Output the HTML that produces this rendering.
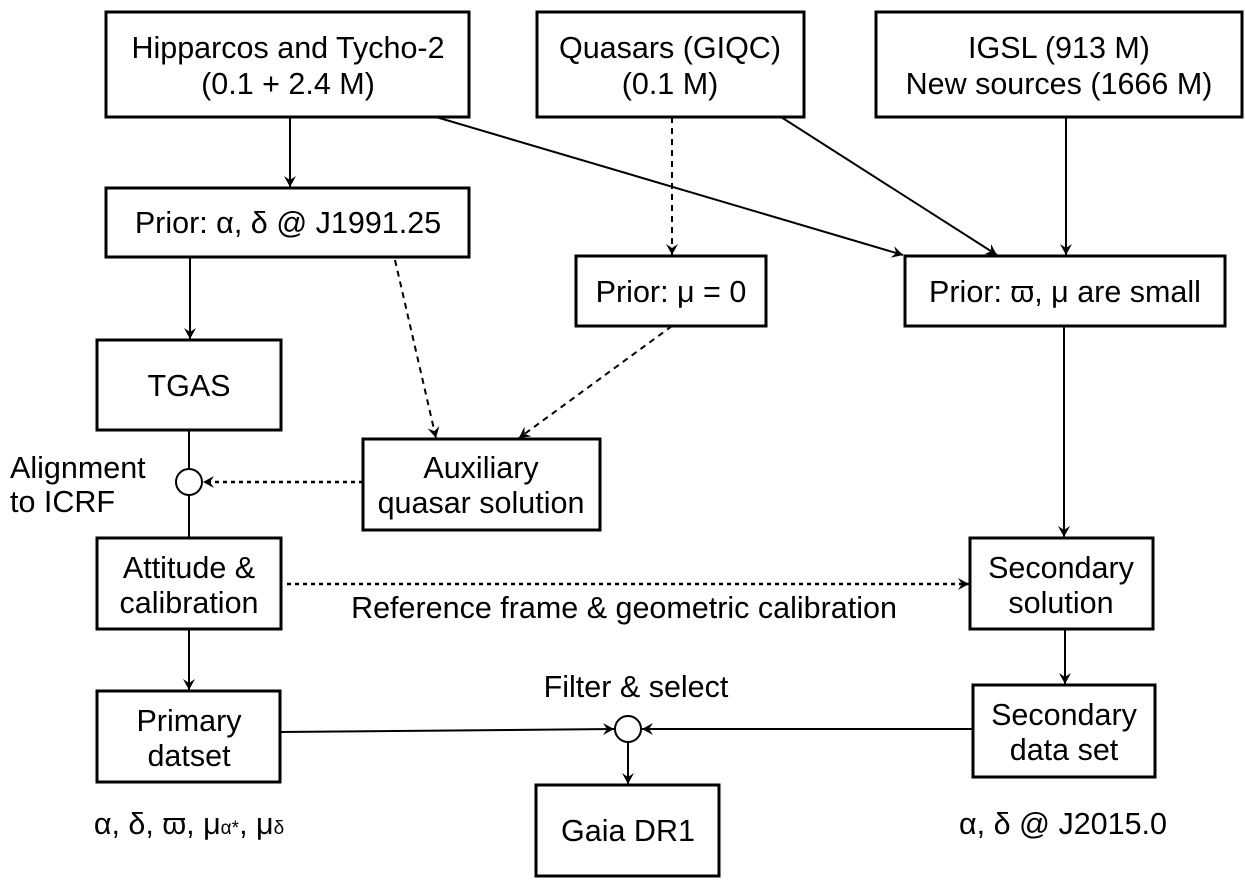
<!DOCTYPE html>
<html><head><meta charset="utf-8"><style>
html,body{margin:0;padding:0;background:#fff;}
svg{display:block;font-family:"Liberation Sans",Arial,sans-serif;}
text{font-size:30.5px;fill:#000;text-anchor:middle;}
</style></head><body>
<svg width="1245" height="887" viewBox="0 0 1245 887" xmlns="http://www.w3.org/2000/svg">
<defs>
<marker id="a" markerWidth="12" markerHeight="12" refX="11" refY="6" orient="auto" markerUnits="userSpaceOnUse">
<path d="M0,0 L11,6 L0,12 L4,6 z" fill="#000"/></marker>
</defs>
<g fill="none" stroke="#000" stroke-width="3">
<rect x="106" y="12" width="363" height="105"/>
<rect x="537" y="12" width="267" height="105"/>
<rect x="876" y="12" width="366" height="105"/>
<rect x="106" y="188" width="363" height="69"/>
<rect x="576" y="256" width="190" height="70"/>
<rect x="905" y="256" width="320" height="70"/>
<rect x="97" y="340" width="184" height="90"/>
<rect x="363" y="439" width="237" height="91"/>
<rect x="97" y="538" width="184" height="91"/>
<rect x="970" y="538" width="183" height="91"/>
<rect x="97" y="691" width="183" height="91"/>
<rect x="973" y="685" width="182" height="92"/>
<rect x="536" y="785" width="183" height="91"/>
</g>
<g fill="none" stroke="#000" stroke-width="2">
<circle cx="189" cy="482" r="13"/>
<circle cx="628" cy="729" r="13"/>
<line x1="290" y1="117" x2="290" y2="187" marker-end="url(#a)"/>
<line x1="190" y1="257" x2="190" y2="339" marker-end="url(#a)"/>
<line x1="436" y1="117" x2="903" y2="255" marker-end="url(#a)"/>
<line x1="781" y1="117" x2="997" y2="255" marker-end="url(#a)"/>
<line x1="1066" y1="117" x2="1066" y2="255" marker-end="url(#a)"/>
<line x1="1064" y1="326" x2="1064" y2="537" marker-end="url(#a)"/>
<line x1="189" y1="430" x2="189" y2="469"/>
<line x1="189" y1="495" x2="189" y2="538"/>
<line x1="189" y1="629" x2="189" y2="690" marker-end="url(#a)"/>
<line x1="1065" y1="629" x2="1065" y2="684" marker-end="url(#a)"/>
<line x1="280" y1="732" x2="614" y2="729" marker-end="url(#a)"/>
<line x1="973" y1="729" x2="642" y2="729" marker-end="url(#a)"/>
<line x1="628" y1="742" x2="628" y2="784" marker-end="url(#a)"/>
</g>
<g fill="none" stroke="#000" stroke-width="2">
<line x1="672" y1="117" x2="672" y2="255" marker-end="url(#a)" stroke-dasharray="6,5"/>
<line x1="672" y1="326" x2="519" y2="438" marker-end="url(#a)" stroke-dasharray="6,5"/>
<line x1="395" y1="260" x2="436" y2="438" marker-end="url(#a)" stroke-dasharray="6,5"/>
</g>
<g fill="none" stroke="#000" stroke-width="2.5" stroke-dasharray="4,4">
<line x1="363" y1="482" x2="203" y2="482" marker-end="url(#a)"/>
<line x1="287" y1="584" x2="969" y2="584" marker-end="url(#a)"/>
</g>
<text x="288" y="58">Hipparcos and Tycho-2</text>
<text x="288" y="94">(0.1 + 2.4 M)</text>
<text x="670" y="58">Quasars (GIQC)</text>
<text x="670" y="94">(0.1 M)</text>
<text x="1059" y="58">IGSL (913 M)</text>
<text x="1059" y="94">New sources (1666 M)</text>
<text x="288" y="233">Prior: α, δ @ J1991.25</text>
<text x="671" y="302">Prior: μ = 0</text>
<text x="1065" y="302">Prior: ϖ, μ are small</text>
<text x="189" y="396">TGAS</text>
<text x="481" y="478">Auxiliary</text>
<text x="481" y="513">quasar solution</text>
<text x="10" y="478" style="text-anchor:start">Alignment</text>
<text x="10" y="512" style="text-anchor:start">to ICRF</text>
<text x="189" y="578">Attitude &amp;</text>
<text x="189" y="613">calibration</text>
<text x="1061" y="578">Secondary</text>
<text x="1061" y="613">solution</text>
<text x="624" y="618">Reference frame &amp; geometric calibration</text>
<text x="636" y="697">Filter &amp; select</text>
<text x="189" y="731">Primary</text>
<text x="189" y="766">datset</text>
<text x="1064" y="725">Secondary</text>
<text x="1064" y="760">data set</text>
<text x="628" y="841">Gaia DR1</text>
<text x="189" y="834">α, δ, ϖ, μ<tspan style="font-size:19px">α*</tspan>, μ<tspan style="font-size:19px">δ</tspan></text>
<text x="1063" y="834">α, δ @ J2015.0</text>
</svg>
</body></html>
